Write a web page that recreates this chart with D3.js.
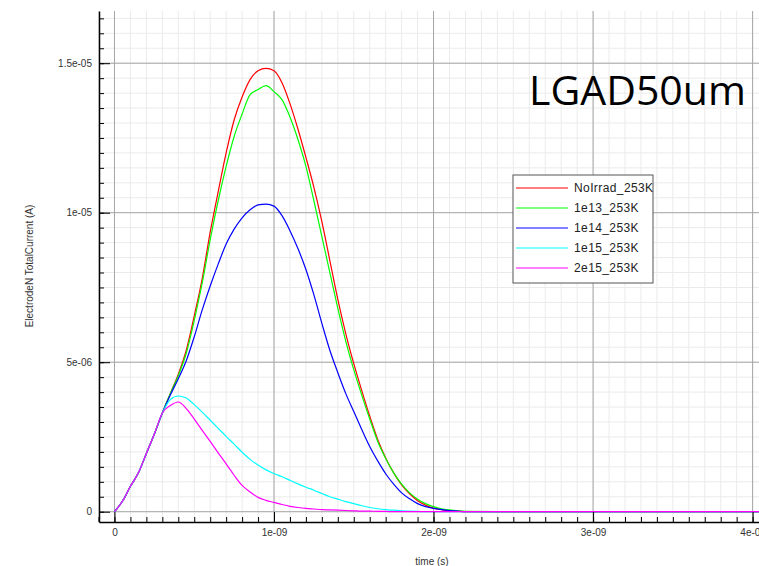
<!DOCTYPE html>
<html lang="en">
<head>
<meta charset="UTF-8">
<title>LGAD50um</title>
<script src="https://d3js.org/d3.v7.min.js"></script>
<style>
  body { margin: 0; background: #fff; }
  svg { display: block; font-family: "Liberation Sans", Arial, sans-serif; }
</style>
</head>
<body>
<svg id="chart"></svg>
<script>
const width = 759, height = 566;

// time in ns, currents in uA (converted to s / A below)
const timeNs = [0, 0.05, 0.1, 0.15, 0.2, 0.25, 0.3, 0.35, 0.4, 0.45, 0.5, 0.55, 0.6, 0.65, 0.7, 0.75,
  0.8, 0.85, 0.9, 0.95, 1.0, 1.05, 1.1, 1.15, 1.2, 1.25, 1.3, 1.35, 1.4, 1.45, 1.5, 1.55, 1.6, 1.65,
  1.7, 1.75, 1.8, 1.85, 1.9, 1.95, 2.0, 2.05, 2.1, 2.15, 2.2, 2.5, 3.0, 3.5, 4.0, 4.1];

const noIrrad = [0, 0.35, 0.85, 1.3, 1.95, 2.6, 3.3, 3.95, 4.6, 5.4, 6.55, 7.8, 9.35, 10.7, 12.0, 13.1,
  13.87, 14.45, 14.75, 14.83, 14.75, 14.35, 13.65, 12.8, 11.85, 10.85, 9.7, 8.4, 7.1, 5.95, 4.95, 4.05,
  3.2, 2.42, 1.8, 1.3, 0.9, 0.6, 0.37, 0.22, 0.12, 0.07, 0.04, 0.02, 0, 0, 0, 0, 0, 0];
const f1e13 = [0, 0.35, 0.85, 1.3, 1.95, 2.6, 3.3, 3.95, 4.55, 5.3, 6.4, 7.65, 9.1, 10.4, 11.55, 12.55,
  13.3, 13.95, 14.12, 14.25, 14.05, 13.78, 13.2, 12.45, 11.55, 10.4, 9.2, 8.0, 6.8, 5.7, 4.75, 3.9,
  3.1, 2.35, 1.78, 1.3, 0.92, 0.63, 0.42, 0.27, 0.17, 0.1, 0.06, 0.03, 0.01, 0, 0, 0, 0, 0];
const f1e14 = [0, 0.35, 0.85, 1.3, 1.95, 2.6, 3.3, 3.9, 4.45, 5.05, 5.85, 6.75, 7.55, 8.28, 8.95, 9.45,
  9.83, 10.1, 10.26, 10.29, 10.22, 9.9, 9.4, 8.8, 8.1, 7.25, 6.3, 5.4, 4.65, 3.95, 3.35, 2.75,
  2.18, 1.7, 1.27, 0.92, 0.63, 0.43, 0.27, 0.17, 0.11, 0.07, 0.04, 0.02, 0, 0, 0, 0, 0, 0];
const f1e15 = [0, 0.35, 0.85, 1.3, 1.95, 2.6, 3.3, 3.75, 3.87, 3.8, 3.58, 3.33, 3.06, 2.79, 2.52, 2.26,
  1.99, 1.75, 1.56, 1.4, 1.28, 1.17, 1.05, 0.93, 0.82, 0.72, 0.61, 0.5, 0.42, 0.34, 0.27, 0.2,
  0.14, 0.1, 0.07, 0.05, 0.03, 0.02, 0.01, 0, 0, 0, 0, 0, 0, 0, 0, 0, 0, 0];
const f2e15 = [0, 0.35, 0.85, 1.3, 1.95, 2.6, 3.3, 3.55, 3.67, 3.45, 3.1, 2.72, 2.35, 1.97, 1.6, 1.22,
  0.88, 0.66, 0.48, 0.38, 0.31, 0.24, 0.18, 0.14, 0.11, 0.09, 0.07, 0.06, 0.05, 0.04, 0.03, 0.02,
  0.02, 0.01, 0.01, 0, 0, 0, 0, 0, 0, 0, 0, 0, 0, 0, 0, 0, 0, 0];

const seriesNames = ["NoIrrad_253K", "1e13_253K", "1e14_253K", "1e15_253K", "2e15_253K"];
const seriesValues = [noIrrad, f1e13, f1e14, f1e15, f2e15];
const seriesColors = ["#ff0000", "#00ff00", "#0000ff", "#00ffff", "#ff00ff"];

const xTickValues = [0, 1e-9, 2e-9, 3e-9, 4e-9];
const xTickLabels = ["0", "1e-09", "2e-09", "3e-09", "4e-09"];
const yTickValues = [0, 5e-6, 1e-5, 1.5e-5];
const yTickLabels = ["0", "5e-06", "1e-05", "1.5e-05"];

const plotL = 99, plotR = 759, plotT = 11, plotB = 522;

const svg = d3.select("#chart").attr("width", width).attr("height", height);
svg.append("rect").attr("width", width).attr("height", height).attr("fill", "#fff");

const x = d3.scaleLinear().domain([-0.097e-9, 4.04e-9]).range([plotL, plotR]);
const y = d3.scaleLinear().domain([-0.344e-6, 16.746e-6]).range([plotB, plotT]);

const xMinor = d3.range(-1, 41).map(i => i * 1e-10);
const yMinor = d3.range(0, 34).map(i => i * 5e-7);

// grid
const grid = svg.append("g");
grid.selectAll(".xm").data(xMinor).join("line")
  .attr("x1", d => x(d)).attr("x2", d => x(d)).attr("y1", plotT).attr("y2", plotB)
  .attr("stroke", "#ebebeb").attr("stroke-width", 1);
grid.selectAll(".ym").data(yMinor).join("line")
  .attr("x1", plotL).attr("x2", plotR).attr("y1", d => y(d)).attr("y2", d => y(d))
  .attr("stroke", "#ebebeb").attr("stroke-width", 1);
grid.selectAll(".xM").data(xTickValues).join("line")
  .attr("x1", d => x(d)).attr("x2", d => x(d)).attr("y1", plotT).attr("y2", plotB)
  .attr("stroke", "#a6a6a6").attr("stroke-width", 1);
grid.selectAll(".yM").data(yTickValues).join("line")
  .attr("x1", plotL).attr("x2", plotR).attr("y1", d => y(d)).attr("y2", d => y(d))
  .attr("stroke", "#a6a6a6").attr("stroke-width", 1);

// curves
svg.append("clipPath").attr("id", "clip").append("rect")
  .attr("x", plotL).attr("y", plotT).attr("width", plotR - plotL).attr("height", plotB - plotT);

const line = d3.line()
  .x((d, i) => x(timeNs[i] * 1e-9))
  .y(d => y(d * 1e-6))
  .curve(d3.curveMonotoneX);

svg.append("g").attr("clip-path", "url(#clip)")
  .selectAll("path").data(seriesValues).join("path")
  .attr("d", line)
  .attr("fill", "none")
  .attr("stroke", (d, i) => seriesColors[i])
  .attr("stroke-width", 1.2);

// axes
const xAxis = svg.append("g").attr("transform", `translate(0,${plotB})`)
  .call(d3.axisBottom(x).tickValues(xTickValues).tickFormat((d, i) => xTickLabels[i])
    .tickSize(-10).tickSizeOuter(0));
svg.append("g").attr("transform", `translate(0,${plotB})`)
  .call(d3.axisBottom(x).tickValues(xMinor).tickFormat("").tickSize(-5).tickSizeOuter(0))
  .select(".domain").remove();
xAxis.selectAll("text").attr("y", 7);

const yAxis = svg.append("g").attr("transform", `translate(${plotL},0)`)
  .call(d3.axisLeft(y).tickValues(yTickValues).tickFormat((d, i) => yTickLabels[i])
    .tickSize(-11).tickSizeOuter(0));
svg.append("g").attr("transform", `translate(${plotL},0)`)
  .call(d3.axisLeft(y).tickValues(yMinor).tickFormat("").tickSize(-5).tickSizeOuter(0))
  .select(".domain").remove();
yAxis.selectAll("text").attr("x", -7);

svg.selectAll(".domain").attr("stroke", "#000").attr("stroke-width", 1.5);
svg.selectAll(".tick line").attr("stroke", "#000");
svg.selectAll(".tick text").attr("fill", "#333").style("font-size", "10px")
  .style("font-family", "'Liberation Sans', Arial, sans-serif");

// axis titles
svg.append("text").attr("x", 432).attr("y", 565).attr("text-anchor", "middle")
  .attr("fill", "#333").style("font-size", "10px").text("time (s)");
svg.append("text").attr("transform", "translate(33,266) rotate(-90)").attr("text-anchor", "middle")
  .attr("fill", "#333").style("font-size", "10px").text("ElectrodeN TotalCurrent (A)");

// big label
svg.append("text").attr("x", 529).attr("y", 105)
  .style("font-family", "'Open Sans', sans-serif").style("font-size", "41px")
  .attr("fill", "#000").text("LGAD50um");

// legend
const lg = svg.append("g").attr("transform", "translate(513,175)");
lg.append("rect").attr("width", 140).attr("height", 108)
  .attr("fill", "#fff").attr("stroke", "#555").attr("stroke-width", 1);
const items = lg.selectAll(".item").data(seriesNames).join("g")
  .attr("transform", (d, i) => `translate(0,${13 + i * 20})`);
items.append("line").attr("x1", 3).attr("x2", 55).attr("y1", 0).attr("y2", 0)
  .attr("stroke", (d, i) => seriesColors[i]).attr("stroke-width", 1.2);
items.append("text").attr("x", 61).attr("dy", "0.35em")
  .attr("fill", "#222").style("font-size", "12px").style("letter-spacing", "0.4px").text(d => d);
</script>
</body>
</html>
